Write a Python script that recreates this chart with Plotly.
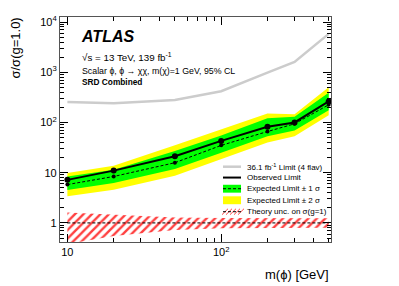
import plotly.graph_objects as go

# ---- data ----
mass = [10, 20, 50, 100, 200, 300, 500]
observed = [7.2, 11.0, 21.3, 43, 82, 100, 262]
expected = [5.8, 8.4, 15.8, 35, 66, 94, 225]
exp_p1 = [8.4, 11.5, 27, 55, 122, 130, 390]
exp_m1 = [4.5, 6.2, 11.8, 25, 53, 69, 175]
exp_p2 = [9.9, 13.8, 35, 72, 150, 145, 505]
exp_m2 = [3.4, 4.6, 8.7, 18.5, 40, 53, 140]
old_limit = [255, 240, 280, 420, 980, 1600, 5800]
theory_nom = [1, 1, 1, 1, 1, 1, 1]
theory_up = [1.62, 1.45, 1.28, 1.25, 1.24, 1.24, 1.24]
theory_dn = [0.38, 0.55, 0.72, 0.78, 0.80, 0.80, 0.80]

x_ticks = [10, 100]
x_ticktext = ["10", "10<sup>2</sup>"]
y_ticks = [1, 10, 100, 1000, 10000]
y_ticktext = ["1", "10", "10<sup>2</sup>", "10<sup>3</sup>", "10<sup>4</sup>"]

legend_labels = [
    "36.1 fb<sup>-1</sup> Limit (4 flav)",
    "Observed Limit",
    "Expected Limit \u00b1 1 \u03c3",
    "Expected Limit \u00b1 2 \u03c3",
    "Theory unc. on \u03c3(g=1)",
]

FONT = "Liberation Sans, Arial, sans-serif"
OFF = 8  # default page body margin
W, H = 399 - OFF, 286 - OFF
# plot-area edges in screen pixels
L, R, T, B = 60, 331, 14, 242


def px(x):
    return (x - L) / (R - L)


def py(y):
    return (B - y) / (B - T)


fig = go.Figure()

# theory band (hatched)
fig.add_trace(go.Scatter(
    x=mass + mass[::-1], y=theory_up + theory_dn[::-1],
    fill="toself", fillcolor="rgba(0,0,0,0)", line=dict(width=0),
    fillpattern=dict(shape="/", fgcolor="#ff0000", bgcolor="rgba(0,0,0,0)",
                     fgopacity=0.75, size=6, solidity=0.4),
    mode="lines", hoverinfo="skip", showlegend=False))
fig.add_trace(go.Scatter(x=mass, y=theory_nom, mode="lines",
                         line=dict(color="black", width=1, dash="3px,2px"),
                         showlegend=False))

# 2 sigma band
fig.add_trace(go.Scatter(
    x=mass + mass[::-1], y=exp_p2 + exp_m2[::-1], fill="toself",
    fillcolor="#ffff00", line=dict(width=0), mode="lines", showlegend=False))
# 1 sigma band
fig.add_trace(go.Scatter(
    x=mass + mass[::-1], y=exp_p1 + exp_m1[::-1], fill="toself",
    fillcolor="#00ff00", line=dict(width=0), mode="lines", showlegend=False))

# old limit
fig.add_trace(go.Scatter(x=mass, y=old_limit, mode="lines",
                         line=dict(color="#cccccc", width=2.5), showlegend=False))
# expected
fig.add_trace(go.Scatter(x=mass, y=expected, mode="lines+markers",
                         line=dict(color="black", width=1, dash="3px,2px"),
                         marker=dict(color="black", size=4), showlegend=False))
# observed
fig.add_trace(go.Scatter(x=mass, y=observed, mode="lines+markers",
                         line=dict(color="black", width=2),
                         marker=dict(color="black", size=6), showlegend=False))

# minor tick positions
x_minor = [m * 10 ** e for e in range(0, 3) for m in range(2, 10)]
y_minor = [m * 10 ** e for e in range(-1, 5) for m in range(2, 10)]

axis_common = dict(type="log", ticks="inside", ticklen=8, tickcolor="black",
                   showline=True, linecolor="#555555", linewidth=1.2,
                   mirror="allticks", showgrid=False, zeroline=False,
                   tickfont=dict(family=FONT, size=11, color="black"),
                   tickmode="array")
fig.update_xaxes(**axis_common, range=[0.952, 2.714], tickvals=x_ticks,
                 ticktext=x_ticktext,
                 minor=dict(tickmode="array", tickvals=x_minor, ticks="inside",
                            ticklen=4, tickcolor="black", showgrid=False))
fig.update_yaxes(**axis_common, range=[-0.38, 4.1], tickvals=y_ticks,
                 ticktext=y_ticktext,
                 minor=dict(tickmode="array", tickvals=y_minor, ticks="inside",
                            ticklen=4, tickcolor="black", showgrid=False))

ann = []


def text(x, y, s, size, xanchor="left", yanchor="middle", angle=0):
    ann.append(dict(x=px(x), y=py(y), xref="paper", yref="paper", text=s,
                    showarrow=False, xanchor=xanchor, yanchor=yanchor,
                    textangle=angle,
                    font=dict(family=FONT, size=size, color="black")))


text(79, 34, "<b><i>ATLAS</i></b>", 16)
text(80, 55, "\u221as = 13 TeV, 139 fb<sup>-1</sup>", 9.8)
text(80, 69, "Scalar \u03d5, \u03d5 \u2192 \u03c7\u03c7, m(\u03c7)=1 GeV, 95% CL", 8.8)
text(80, 80, "<b>SRD Combined</b>", 8.3)
text(16, 13, "\u03c3/\u03c3(g=1.0)", 13, xanchor="center", yanchor="top", angle=-90)
text(331, 275, "m(\u03d5) [GeV]", 13, xanchor="right")

# manual legend
rows = [165.7, 176.7, 188.0, 199.7, 211.3]
sx0, sx1 = 223, 241
shapes = []
for lab, ry in zip(legend_labels, rows):
    text(245, ry, lab, 8)


def seg(x0, y0, x1, y1, color, width, dash="solid"):
    shapes.append(dict(type="line", xref="paper", yref="paper",
                       x0=px(x0), y0=py(y0), x1=px(x1), y1=py(y1),
                       line=dict(color=color, width=width, dash=dash)))


def box(x0, y0, x1, y1, color):
    shapes.append(dict(type="rect", xref="paper", yref="paper",
                       x0=px(x0), y0=py(y0), x1=px(x1), y1=py(y1),
                       fillcolor=color, line=dict(width=0), layer="above"))


seg(sx0, rows[0], sx1, rows[0], "#cccccc", 2.5)
seg(sx0, rows[1], sx1, rows[1], "black", 2)
box(sx0, rows[2] - 4, sx1, rows[2] + 4, "#00ff00")
seg(sx0, rows[2], sx1, rows[2], "black", 1, "3px,2px")
box(sx0, rows[3] - 4, sx1, rows[3] + 4, "#ffff00")
for i in range(5):
    xa = sx0 + i * 4
    seg(xa - 1, rows[4] + 3, xa + 5, rows[4] - 3, "#ff3030", 0.9)
seg(sx0, rows[4], sx1, rows[4], "black", 1, "3px,2px")

fig.update_layout(width=W, height=H, autosize=False,
                  margin=dict(l=L - OFF, r=W - (R - OFF), t=T - OFF,
                              b=H - (B - OFF)),
                  paper_bgcolor="white", plot_bgcolor="white",
                  annotations=ann, shapes=shapes, showlegend=False,
                  font=dict(family=FONT))

fig.write_html("out.html")
